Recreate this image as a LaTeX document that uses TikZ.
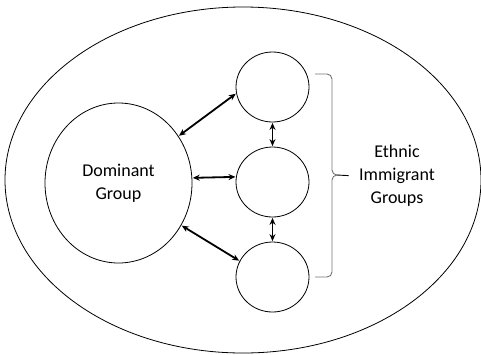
\documentclass[tikz,border=0pt]{standalone}
\usepackage{fontspec}
\setmainfont{Carlito}
\usetikzlibrary{arrows.meta,shapes.geometric}
\begin{document}
\begin{tikzpicture}[x=1pt,y=-1pt,
  thinline/.style={draw=black,line width=0.8pt},
  grp/.style={thinline,ellipse,inner sep=0pt},
  link/.style={line width=1.8pt,{Stealth[length=7pt,width=6pt]}-{Stealth[length=7pt,width=6pt]},shorten <=0.5pt,shorten >=0.5pt},
  lab/.style={font=\fontsize{18}{23}\selectfont,align=center,text=black}]
\useasboundingbox (0,0) rectangle (481,354);
\node[grp,minimum width=476pt,minimum height=346pt] (outer) at (243,180) {};
\node[grp,minimum width=147pt,minimum height=160pt,lab] (dom) at (118.5,183) {Dominant\\Group};
\node[grp,minimum width=73pt,minimum height=70pt] (g1) at (272.5,87) {};
\node[grp,minimum width=73pt,minimum height=70pt] (g2) at (272.5,182) {};
\node[grp,minimum width=73pt,minimum height=70pt] (g3) at (272.5,277) {};
\draw[link] (dom.38) -- (g1.190);
\draw[link] (dom.4) -- (g2.172);
\draw[link] (dom.-34) -- (g3.154);
\draw[link] (g1.270) -- (g2.90);
\draw[link] (g2.270) -- (g3.90);
\coordinate (btop) at (315,74);
\coordinate (bbot) at (315,277);
\coordinate (btip) at (337,175);
\draw[line width=0.9pt,draw=black!55] (btop) -- (327,74) to[out=0,in=90] (332,79) -- (332,170) to[out=270,in=180] (btip)
  to[out=180,in=90] (332,180) -- (332,272) to[out=270,in=0] (327,277) -- (bbot);
\node[lab] (eig) at (397,176) {Ethnic\\Immigrant\\Groups};
\draw[line width=0.9pt,shorten >=7pt] (btip) -- (eig.west);
\end{tikzpicture}
\end{document}
